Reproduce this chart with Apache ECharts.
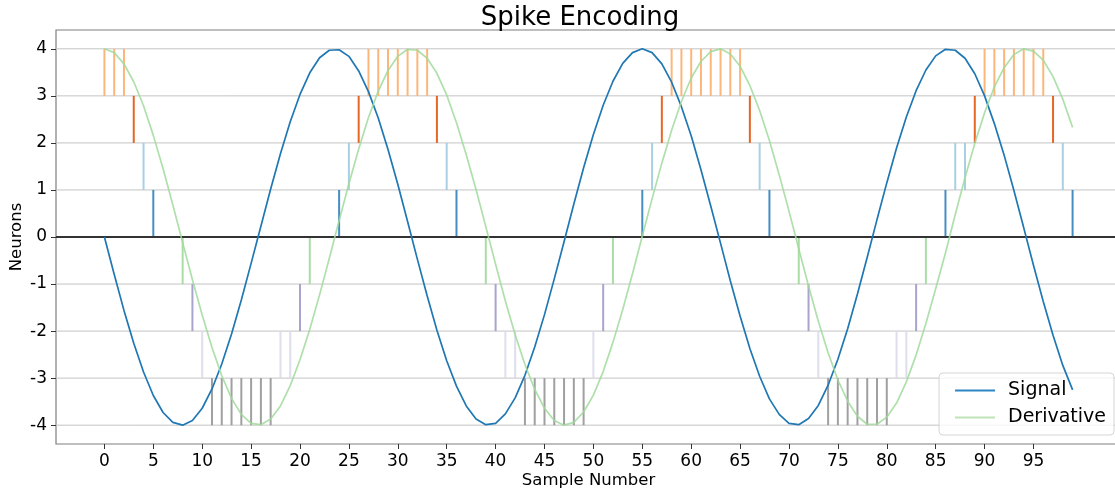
<!DOCTYPE html>
<html>
<head>
<meta charset="utf-8">
<title>Spike Encoding</title>
<script src="https://cdn.jsdelivr.net/npm/echarts@6/dist/echarts.min.js"></script>
<style>
  html, body { margin: 0; padding: 0; background: #fff; }
  #chart { width: 1115px; height: 491px; }
</style>
</head>
<body>
<div id="chart"></div>
<script>
// signal and derivative, one value per sample (0..99)
const signal = [
  0.00, -0.79, -1.56, -2.26, -2.87, -3.37, -3.73, -3.94, -4.00, -3.90,
  -3.64, -3.23, -2.70, -2.06, -1.34, -0.56, 0.23, 1.02, 1.77, 2.45,
  3.03, 3.49, 3.81, 3.97, 3.98, 3.84, 3.53, 3.09, 2.53, 1.86,
  1.12, 0.33, -0.47, -1.25, -1.98, -2.63, -3.17, -3.59, -3.87, -3.99,
  -3.96, -3.76, -3.42, -2.94, -2.34, -1.65, -0.89, -0.10, 0.70, 1.47,
  2.18, 2.80, 3.31, 3.69, 3.92, 4.00, 3.92, 3.68, 3.29, 2.77,
  2.15, 1.43, 0.66, -0.13, -0.93, -1.68, -2.37, -2.96, -3.44, -3.77,
  -3.96, -3.99, -3.86, -3.58, -3.15, -2.60, -1.95, -1.21, -0.43, 0.37,
  1.15, 1.89, 2.55, 3.11, 3.55, 3.85, 3.99, 3.97, 3.80, 3.47,
  3.00, 2.41, 1.74, 0.99, 0.20, -0.60, -1.37, -2.09, -2.73, -3.25
];
const derivative = [
  4.00, 3.92, 3.68, 3.30, 2.79, 2.16, 1.45, 0.68, -0.12, -0.91,
  -1.66, -2.35, -2.95, -3.43, -3.77, -3.96, -3.99, -3.87, -3.59, -3.16,
  -2.61, -1.96, -1.23, -0.45, 0.35, 1.13, 1.87, 2.54, 3.10, 3.54,
  3.84, 3.99, 3.97, 3.80, 3.48, 3.02, 2.43, 1.75, 1.01, 0.22,
  -0.58, -1.36, -2.08, -2.71, -3.24, -3.64, -3.90, -4.00, -3.94, -3.72,
  -3.36, -2.86, -2.24, -1.54, -0.78, 0.02, 0.81, 1.57, 2.27, 2.88,
  3.38, 3.73, 3.94, 4.00, 3.89, 3.63, 3.22, 2.69, 2.05, 1.32,
  0.55, -0.25, -1.04, -1.79, -2.46, -3.04, -3.49, -3.81, -3.98, -3.98,
  -3.83, -3.53, -3.08, -2.51, -1.84, -1.10, -0.34, 0.48, 1.26, 1.99,
  2.64, 3.19, 3.60, 3.88, 4.00, 3.95, 3.76, 3.41, 2.93, 2.33
];

// spike times (sample numbers) for each neuron
const neuronLevels = [4, 3, 2, 1, -1, -2, -3, -4];
const spikes4 = [0, 1, 2, 27, 28, 29, 30, 31, 32, 33, 58, 59, 60, 61, 62, 63, 64, 65, 90, 91, 92, 93, 94, 95, 96];
const spikes3 = [3, 26, 34, 57, 66, 89, 97];
const spikes2 = [4, 25, 35, 56, 67, 87, 88, 98];
const spikes1 = [5, 24, 36, 55, 68, 86, 99];
const spikesM1 = [8, 21, 39, 52, 71, 84];
const spikesM2 = [9, 20, 40, 51, 72, 83];
const spikesM3 = [10, 18, 19, 41, 42, 50, 73, 81, 82];
const spikesM4 = [11, 12, 13, 14, 15, 16, 17, 43, 44, 45, 46, 47, 48, 49, 74, 75, 76, 77, 78, 79, 80];

const xTicks = [0, 5, 10, 15, 20, 25, 30, 35, 40, 45, 50, 55, 60, 65, 70, 75, 80, 85, 90, 95];
const yTicks = [-4, -3, -2, -1, 0, 1, 2, 3, 4];
const yTickLabels = ['-4', '-3', '-2', '-1', '0', '1', '2', '3', '4'];

const spikeLists = [spikes4, spikes3, spikes2, spikes1, spikesM1, spikesM2, spikesM3, spikesM4];
const spikeColors = ['#fdae6b', '#e6550d', '#9ecae1', '#3182bd', '#a1d99b', '#9e9ac8', '#dadaeb', '#969696'];

const FONT = 'DejaVu Sans';

const chart = echarts.init(document.getElementById('chart'), null, { renderer: 'canvas' });

// horizontal line across the whole grid at a y value
const hLine = (color, width) => (params, api) => {
  const y = api.coord([0, api.value(1)])[1];
  const cs = params.coordSys;
  return {
    type: 'line',
    shape: { x1: cs.x, y1: y, x2: cs.x + cs.width, y2: y },
    style: { stroke: color, lineWidth: width }
  };
};

const spikeSeries = neuronLevels.map((lvl, k) => ({
  type: 'custom',
  name: 'neuron' + lvl,
  z: 3,
  silent: true,
  data: spikeLists[k].map(t => lvl > 0 ? [t, lvl - 1, lvl] : [t, lvl, lvl + 1]),
  encode: { x: 0, y: [1, 2] },
  renderItem: (params, api) => {
    const p0 = api.coord([api.value(0), api.value(1)]);
    const p1 = api.coord([api.value(0), api.value(2)]);
    return {
      type: 'line',
      shape: { x1: p0[0], y1: p0[1], x2: p1[0], y2: p1[1] },
      style: { stroke: spikeColors[k], lineWidth: 2, opacity: 0.9 }
    };
  }
}));

const option = {
  animation: false,
  title: {
    text: 'Spike Encoding',
    left: 575,
    top: 0,
    textAlign: 'center',
    textStyle: { fontFamily: FONT, fontSize: 26, fontWeight: 'normal', color: '#000' }
  },
  grid: {
    left: 56,
    top: 30,
    width: 1065,
    height: 414,
    outerBoundsMode: 'none',
    show: true,
    borderColor: '#7f7f7f',
    borderWidth: 1.2,
    backgroundColor: 'transparent'
  },
  legend: {
    orient: 'vertical',
    right: 1,
    bottom: 56,
    data: ['Signal', 'Derivative'],
    icon: 'rect',
    itemWidth: 40,
    itemHeight: 2,
    itemGap: 8,
    padding: [8, 8, 8, 16],
    backgroundColor: 'rgba(255,255,255,0.8)',
    borderColor: '#d5d5d5',
    borderWidth: 1,
    borderRadius: 4,
    textStyle: { fontFamily: FONT, fontSize: 19, color: '#000', padding: [0, 0, 0, 8] }
  },
  xAxis: {
    type: 'value',
    min: -4.95,
    max: 103.95,
    name: 'Sample Number',
    nameLocation: 'middle',
    nameGap: 28,
    nameMoveOverlap: false,
    nameTextStyle: { fontFamily: FONT, fontSize: 16.5, color: '#000' },
    axisLine: { show: false, onZero: false },
    axisTick: { show: true, customValues: xTicks, length: 5, lineStyle: { color: '#333' } },
    axisLabel: { customValues: xTicks, margin: 9, fontFamily: FONT, fontSize: 17, color: '#000' },
    splitLine: { show: false }
  },
  yAxis: {
    type: 'value',
    min: -4.4,
    max: 4.4,
    name: 'Neurons',
    nameLocation: 'middle',
    nameGap: 31,
    nameMoveOverlap: false,
    nameTextStyle: { fontFamily: FONT, fontSize: 16.5, color: '#000' },
    axisLine: { show: false, onZero: false },
    axisTick: { show: true, customValues: yTicks, length: 5, lineStyle: { color: '#333' } },
    axisLabel: {
      customValues: yTicks,
      margin: 9,
      fontFamily: FONT,
      fontSize: 17,
      color: '#000',
      formatter: v => yTickLabels[yTicks.indexOf(Math.round(v))]
    },
    splitLine: { show: false }
  },
  series: [
    {
      type: 'custom',
      name: 'grid',
      z: 1,
      silent: true,
      data: yTicks.filter(v => v !== 0).map(v => [0, v]),
      encode: { x: 0, y: 1 },
      renderItem: hLine('#c4c4c4', 1)
    },
    ...spikeSeries,
    {
      type: 'custom',
      name: 'zero',
      z: 4,
      silent: true,
      data: [[0, 0]],
      encode: { x: 0, y: 1 },
      renderItem: hLine('#333', 2)
    },
    {
      type: 'line',
      name: 'Signal',
      z: 5,
      data: signal.map((v, i) => [i, v]),
      symbol: 'none',
      lineStyle: { color: '#1f77b4', width: 1.7 },
      itemStyle: { color: '#2f86c4' }
    },
    {
      type: 'line',
      name: 'Derivative',
      z: 5,
      data: derivative.map((v, i) => [i, v]),
      symbol: 'none',
      lineStyle: { color: '#a1d99b', width: 1.7, opacity: 0.85 },
      itemStyle: { color: '#bfe3b7' }
    }
  ]
};

chart.setOption(option);
</script>
</body>
</html>
